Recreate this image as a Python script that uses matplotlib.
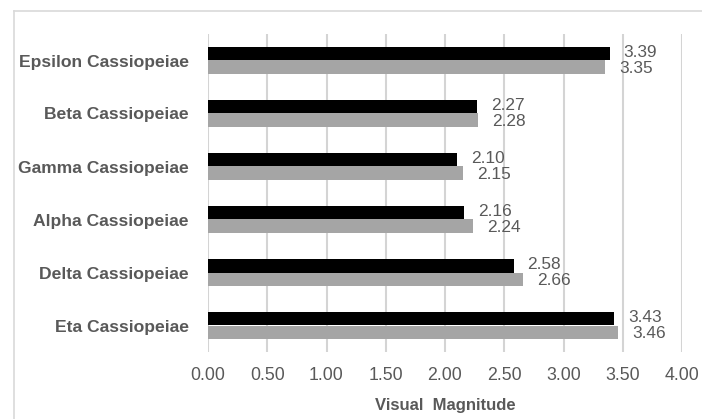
import matplotlib.pyplot as plt
from matplotlib.lines import Line2D
import numpy as np

stars = ["Epsilon Cassiopeiae", "Beta Cassiopeiae", "Gamma Cassiopeiae",
         "Alpha Cassiopeiae", "Delta Cassiopeiae", "Eta Cassiopeiae"]
mag_black = [3.39, 2.27, 2.10, 2.16, 2.58, 3.43]
mag_gray = [3.35, 2.28, 2.15, 2.24, 2.66, 3.46]
x_ticks = [0.0, 0.5, 1.0, 1.5, 2.0, 2.5, 3.0, 3.5, 4.0]

text_col = "#595959"
grid_col = "#d4d4d4"
plt.rcParams["font.family"] = ["Liberation Sans", "DejaVu Sans"]

fig = plt.figure(figsize=(7.02, 4.19), dpi=100)
ax = fig.add_axes([208 / 702, 1 - 352 / 419, 474 / 702, 318 / 419])

# chart border (top and left edges visible)
fig.add_artist(Line2D([14 / 702, 1.0], [1 - 11 / 419] * 2, color="#d9d9d9", lw=1.2))
fig.add_artist(Line2D([14 / 702] * 2, [0.0, 1 - 11 / 419], color="#d9d9d9", lw=1.2))

y = np.arange(len(stars))
h = 0.255
b1 = ax.barh(y - h / 2, mag_black, height=h, color="black", zorder=3)
b2 = ax.barh(y + h / 2, mag_gray, height=h, color="#a5a5a5", zorder=3)

# value labels: black series nudged up, gray series nudged down
for bars, vals, dy in [(b1, mag_black, 1.2), (b2, mag_gray, -0.8)]:
    for bar, v in zip(bars, vals):
        ax.annotate(f"{v:.2f}", (v, bar.get_y() + bar.get_height() / 2),
                    xytext=(10, dy), textcoords="offset points",
                    ha="left", va="center", fontsize=12.4, color=text_col)

ax.set_xlim(0, 4)
ax.set_ylim(len(stars) - 0.5, -0.5)
ax.set_xticks(x_ticks)
ax.set_xticklabels([f"{t:.2f}" for t in x_ticks], fontsize=12.8, color=text_col)
ax.set_yticks(y)
ax.set_yticklabels(stars, fontsize=12.6, fontweight="bold", color=text_col)
ax.tick_params(axis="both", length=0)
ax.tick_params(axis="x", pad=11)
ax.tick_params(axis="y", pad=14)
ax.grid(axis="x", color=grid_col, lw=1.5, zorder=0)
for s in ax.spines.values():
    s.set_visible(False)

ax.set_xlabel("Visual  Magnitude", fontsize=12, fontweight="bold",
              color=text_col, labelpad=10)

fig.savefig("out.png", dpi=100)
